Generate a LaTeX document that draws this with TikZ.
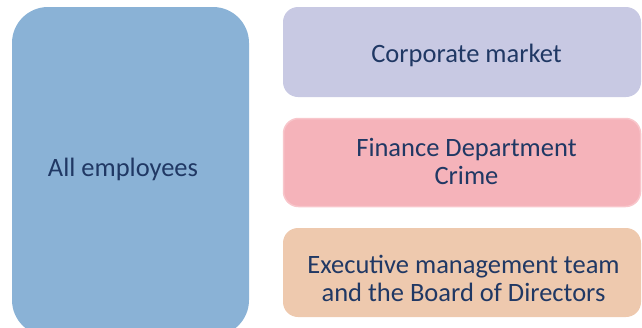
\documentclass[tikz,border=0pt]{standalone}
\usepackage{fontspec}
\setmainfont{Carlito}
\definecolor{txt}{HTML}{203864}
\definecolor{cA}{HTML}{8AB2D6}
\definecolor{cB}{HTML}{C8C9E3}
\definecolor{cC}{HTML}{F5B3BA}
\definecolor{cCb}{HTML}{F8C6CB}
\definecolor{cD}{HTML}{EEC9AE}
\begin{document}
\begin{tikzpicture}[x=1pt,y=-1pt,
  lbl/.style={text=txt,font=\fontsize{26.5}{27.5}\selectfont,align=center,inner sep=0pt,anchor=base}]
\useasboundingbox (0,0) rectangle (642,327);
\begin{scope}
\clip (0,0) rectangle (642,327);
\fill[cA,rounded corners=36pt] (12,7) rectangle (249,336);
\end{scope}
\fill[cB,rounded corners=15pt] (283,7) rectangle (641,97);
\fill[cC,draw=cCb,line width=1.5pt,rounded corners=15pt] (283.5,118.5) rectangle (640.5,206.5);
\fill[cD,rounded corners=15pt] (283,228) rectangle (641,317);
\node[lbl] (all) at (123,176) {All employees};
\node[lbl] (cm) at (466.5,62) {Corporate market};
\node[lbl] (fd) at (466.5,184) {Finance Department\\Crime};
\node[lbl] (ex) at (463.5,301) {Executive management team\\and the Board of Directors};
\end{tikzpicture}
\end{document}
